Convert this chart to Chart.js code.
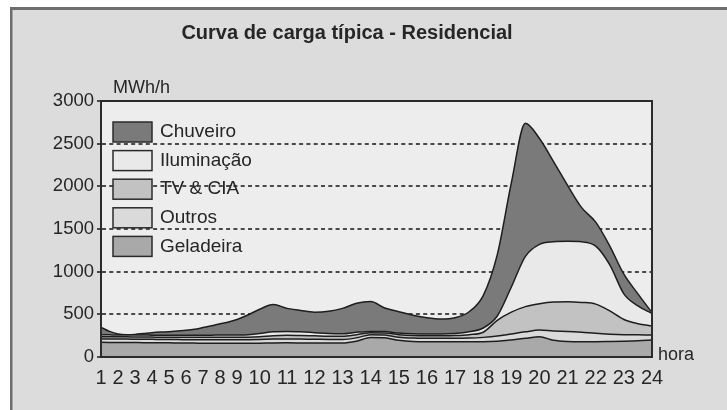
<!DOCTYPE html>
<html lang="pt-BR">
<head>
<meta charset="utf-8">
<title>Curva de carga típica - Residencial</title>
<script src="https://cdn.jsdelivr.net/npm/chart.js@4.4.1/dist/chart.umd.min.js"></script>
<style>
  html, body { margin: 0; padding: 0; background: #fff; }
  #grafico { display: block; }
</style>
</head>
<body>
<canvas id="grafico" width="727" height="410"></canvas>
<script>
// Carga residencial por uso final (MWh/h), de meia em meia hora
const horas = [1, 1.5, 2, 2.5, 3, 3.5, 4, 4.5, 5, 5.5, 6, 6.5, 7, 7.5, 8, 8.5, 9, 9.5, 10, 10.5,
  11, 11.5, 12, 12.5, 13, 13.5, 14, 14.5, 15, 15.5, 16, 16.5, 17, 17.5, 18, 18.5, 19, 19.5, 20, 20.5,
  21, 21.5, 22, 22.5, 23, 23.5, 24];
const rotulosHora = ['1', '2', '3', '4', '5', '6', '7', '8', '9', '10', '11', '12', '13', '14', '15',
  '16', '17', '18', '19', '20', '21', '22', '23', '24'];
const ticksCarga = [0, 500, 1000, 1500, 2000, 2500, 3000];

const geladeira = [172, 171, 170, 170, 169, 168, 168, 167, 166, 165, 164, 163, 162, 162, 161, 161, 161, 161, 162, 165,
  166, 165, 164, 163, 163, 185, 228, 225, 195, 182, 180, 180, 180, 180, 180, 185, 200, 219, 238, 195,
  182, 180, 180, 182, 185, 190, 199];
const outros = [40, 40, 40, 40, 40, 40, 39, 39, 39, 39, 39, 39, 40, 40, 41, 41, 41, 42, 43, 45,
  46, 45, 44, 43, 43, 40, 34, 33, 37, 40, 40, 40, 40, 42, 50, 60, 70, 76, 78, 110,
  118, 110, 97, 86, 77, 70, 59];
const tvCia = [26, 26, 26, 26, 26, 26, 26, 26, 27, 27, 27, 28, 28, 28, 28, 28, 28, 29, 33, 40,
  43, 42, 40, 38, 38, 37, 23, 24, 30, 30, 30, 30, 32, 40, 60, 185, 255, 295, 309, 340,
  348, 350, 343, 272, 178, 130, 105];
const iluminacao = [24, 23, 22, 22, 22, 23, 23, 24, 24, 25, 26, 26, 26, 26, 27, 27, 28, 30, 37, 47,
  45, 43, 37, 31, 28, 28, 15, 16, 18, 20, 20, 20, 23, 33, 50, 50, 295, 590, 695, 705,
  707, 710, 680, 540, 300, 210, 147];
const chuveiro = [86, 40, 12, 4, 8, 18, 29, 36, 41, 49, 57, 69, 89, 109, 133, 153, 182, 233, 285, 318,
  270, 250, 240, 260, 298, 340, 350, 277, 250, 218, 190, 175, 185, 235, 380, 720, 1220, 1560, 1240, 940,
  655, 400, 280, 220, 230, 140, 10];

const FONTE = '"Liberation Sans", Arial, Helvetica, sans-serif';
const TINTA = '#262626';

// Eixo das horas: os rótulos ficam corridos como uma linha de texto,
// do início ao fim do eixo, e os valores seguem essas posições
class EscalaHoras extends Chart.LinearScale {
    configure() {
        super.configure();
        this._posRotulos = null;
    }

    posicoesDosRotulos() {
        if (this._posRotulos) return this._posRotulos;
        const ticks = this.ticks || [];
        if (ticks.length < 2) return null;
        const ctx = this.ctx;
        ctx.save();
        ctx.font = Chart.helpers.toFont(this.options.ticks.font).string;
        const larg = ticks.map(t => ctx.measureText(String(t.label)).width);
        ctx.restore();
        const n = larg.length;
        const miolo = larg.reduce((a, b) => a + b, 0) - larg[0] / 2 - larg[n - 1] / 2;
        const folga = (this.right - this.left - miolo) / (n - 1);
        const pos = [this.left];
        for (let i = 1; i < n; i++) {
            pos.push(pos[i - 1] + larg[i - 1] / 2 + folga + larg[i] / 2);
        }
        this._posRotulos = { valores: ticks.map(t => t.value), pos };
        return this._posRotulos;
    }

    getPixelForValue(value) {
        const p = this.posicoesDosRotulos();
        if (!p || value == null || isNaN(value)) return super.getPixelForValue(value);
        const v = p.valores;
        let i = 0;
        while (i < v.length - 2 && value > v[i + 1]) i++;
        const f = (value - v[i]) / (v[i + 1] - v[i]);
        return p.pos[i] + (p.pos[i + 1] - p.pos[i]) * f;
    }
}
EscalaHoras.id = 'horas';
EscalaHoras.defaults = Chart.LinearScale.defaults;
Chart.register(EscalaHoras);

// Fundo cinza com moldura, área do gráfico mais clara
const moldura = {
    id: 'moldura',
    beforeDraw(chart) {
        const { ctx, width, height, chartArea: a } = chart;
        ctx.save();
        ctx.fillStyle = '#ffffff';
        ctx.fillRect(0, 0, width, height);
        ctx.fillStyle = '#6e6e6e';
        ctx.fillRect(10, 7, width - 10, height - 7);
        ctx.fillStyle = '#dcdcdc';
        ctx.fillRect(12.5, 10, width - 12.5, height - 10);
        ctx.fillStyle = '#ededed';
        ctx.fillRect(a.left, a.top, a.right - a.left, a.bottom - a.top);
        ctx.restore();
    },
    afterDatasetsDraw(chart) {
        const { ctx, chartArea: a } = chart;
        ctx.save();
        ctx.strokeStyle = '#2b2b2b';
        ctx.lineWidth = 2;
        ctx.strokeRect(a.left, a.top, a.right - a.left, a.bottom - a.top);
        ctx.restore();
    }
};

// Títulos, unidades e legenda dentro da área do gráfico
const textos = {
    id: 'textos',
    afterDraw(chart) {
        const { ctx, chartArea: a } = chart;
        ctx.save();
        ctx.fillStyle = TINTA;
        ctx.textBaseline = 'middle';

        ctx.font = 'bold 20px ' + FONTE;
        ctx.textAlign = 'center';
        ctx.fillText('Curva de carga típica - Residencial', 347, 33);

        ctx.font = '18px ' + FONTE;
        ctx.textAlign = 'left';
        ctx.fillText('MWh/h', a.left + 12, a.top - 13);
        ctx.fillText('hora', a.right + 6, a.bottom - 2);

        // legenda: de cima para baixo na ordem inversa do empilhamento
        const itens = chart.data.datasets.slice().reverse();
        const x = a.left + 12;
        ctx.font = '19px ' + FONTE;
        itens.forEach((ds, k) => {
            const y = a.top + 21 + k * 28.6;
            ctx.fillStyle = ds.backgroundColor;
            ctx.fillRect(x, y, 39, 20);
            ctx.strokeStyle = '#2b2b2b';
            ctx.lineWidth = 1.5;
            ctx.strokeRect(x, y, 39, 20);
            ctx.fillStyle = TINTA;
            ctx.fillText(ds.label, x + 47, y + 10);
        });
        ctx.restore();
    }
};

function camada(rotulo, valores, cor, preenche) {
    return {
        label: rotulo,
        data: valores,
        backgroundColor: cor,
        borderColor: '#1e1e1e',
        borderWidth: 1.5,
        fill: preenche,
        pointRadius: 0,
        cubicInterpolationMode: 'monotone'
    };
}

const ctx = document.getElementById('grafico').getContext('2d');
new Chart(ctx, {
    type: 'line',
    data: {
        labels: horas,
        datasets: [
            camada('Geladeira', geladeira, '#a9a9a9', 'origin'),
            camada('Outros', outros, '#dadada', '-1'),
            camada('TV & CIA', tvCia, '#c2c2c2', '-1'),
            camada('Iluminação', iluminacao, '#e9e9e9', '-1'),
            camada('Chuveiro', chuveiro, '#7a7a7a', '-1')
        ]
    },
    options: {
        responsive: false,
        animation: false,
        events: [],
        layout: { padding: { left: 0, right: 75, top: 101, bottom: 22 } },
        plugins: {
            legend: { display: false },
            tooltip: { enabled: false }
        },
        scales: {
            x: {
                type: 'horas',
                min: 1,
                max: 24,
                grid: { display: false, drawTicks: false },
                border: { display: true, color: '#2b2b2b', width: 2 },
                ticks: {
                    stepSize: 1,
                    autoSkip: false,
                    maxTicksLimit: 30,
                    maxRotation: 0,
                    minRotation: 0,
                    padding: 9,
                    color: TINTA,
                    font: { family: FONTE, size: 20 },
                    callback: (v, i) => rotulosHora[i]
                },
                afterFit: (s) => { s.height = 31; }
            },
            y: {
                stacked: true,
                min: 0,
                max: 3000,
                afterBuildTicks: (s) => { s.ticks = ticksCarga.map(v => ({ value: v })); },
                grid: {
                    color: (c) => (c.tick && (c.tick.value === 0 || c.tick.value === 3000)) ? 'rgba(0,0,0,0)' : '#4a4a4a',
                    lineWidth: 2,
                    tickLength: 4,
                    tickColor: '#4a4a4a',
                    tickBorderDash: [4, 3.3]
                },
                border: { display: true, color: '#2b2b2b', width: 2, dash: [4, 3.3] },
                ticks: {
                    padding: 3,
                    color: TINTA,
                    font: { family: FONTE, size: 18.5 },
                    callback: (v) => String(v)
                },
                afterFit: (s) => { s.width = 101; }
            }
        }
    },
    plugins: [moldura, textos]
});
</script>
</body>
</html>
